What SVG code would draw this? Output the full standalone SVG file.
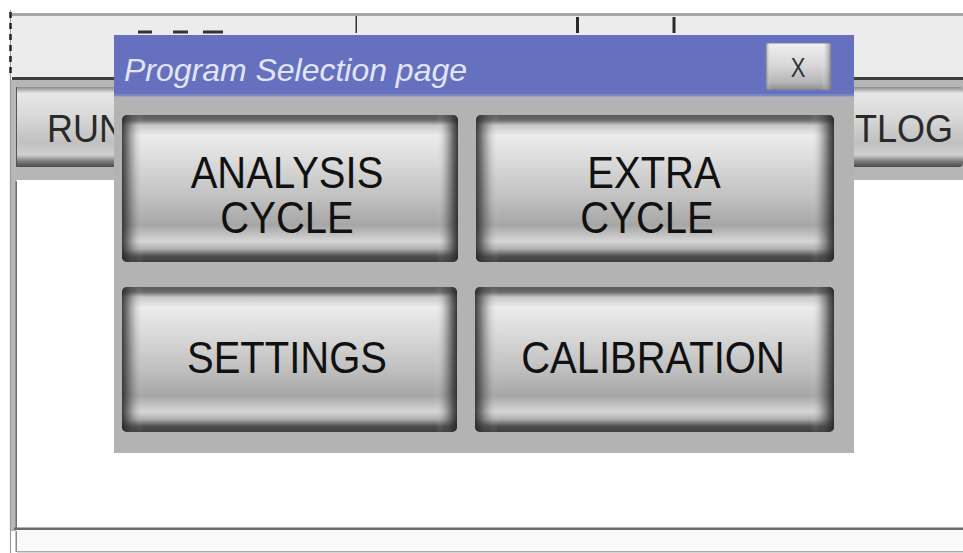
<svg xmlns="http://www.w3.org/2000/svg" width="963" height="553" viewBox="0 0 963 553">
  <defs>
    <linearGradient id="btnV" x1="0" y1="0" x2="0" y2="1">
      <stop offset="0" stop-color="#5a5a5a"/>
      <stop offset="0.035" stop-color="#6a6a6a"/>
      <stop offset="0.07" stop-color="#c8c8c8"/>
      <stop offset="0.14" stop-color="#ececec"/>
      <stop offset="0.3" stop-color="#dcdcdc"/>
      <stop offset="0.55" stop-color="#c2c2c2"/>
      <stop offset="0.75" stop-color="#a6a6a6"/>
      <stop offset="0.86" stop-color="#d6d6d6"/>
      <stop offset="0.91" stop-color="#b0b0b0"/>
      <stop offset="0.96" stop-color="#4e4e4e"/>
      <stop offset="1" stop-color="#3e3e3e"/>
    </linearGradient>
    <linearGradient id="btnH" x1="0" y1="0" x2="1" y2="0">
      <stop offset="0" stop-color="#222" stop-opacity="0.85"/>
      <stop offset="0.014" stop-color="#333" stop-opacity="0.65"/>
      <stop offset="0.04" stop-color="#555" stop-opacity="0.18"/>
      <stop offset="0.065" stop-color="#fff" stop-opacity="0"/>
      <stop offset="0.935" stop-color="#fff" stop-opacity="0"/>
      <stop offset="0.96" stop-color="#555" stop-opacity="0.22"/>
      <stop offset="0.986" stop-color="#333" stop-opacity="0.72"/>
      <stop offset="1" stop-color="#222" stop-opacity="0.9"/>
    </linearGradient>
    <linearGradient id="barBtn" x1="0" y1="0" x2="0" y2="1">
      <stop offset="0" stop-color="#8a8a8a"/>
      <stop offset="0.08" stop-color="#e6e6e6"/>
      <stop offset="0.35" stop-color="#dadada"/>
      <stop offset="0.7" stop-color="#c0c0c0"/>
      <stop offset="0.85" stop-color="#d0d0d0"/>
      <stop offset="0.93" stop-color="#7a7a7a"/>
      <stop offset="1" stop-color="#4a4a4a"/>
    </linearGradient>
    <linearGradient id="xBtn" x1="0" y1="0" x2="0" y2="1">
      <stop offset="0" stop-color="#f0f0f0"/>
      <stop offset="0.5" stop-color="#d6d6d6"/>
      <stop offset="0.85" stop-color="#b4b4b4"/>
      <stop offset="1" stop-color="#8a8a8a"/>
    </linearGradient>
    <linearGradient id="xBtnH" x1="0" y1="0" x2="1" y2="0">
      <stop offset="0" stop-color="#777" stop-opacity="0.6"/>
      <stop offset="0.08" stop-color="#fff" stop-opacity="0"/>
      <stop offset="0.85" stop-color="#fff" stop-opacity="0"/>
      <stop offset="1" stop-color="#666" stop-opacity="0.7"/>
    </linearGradient>
  </defs>
  <style>
    .lbl { font-family: "Liberation Sans", Arial, sans-serif; font-size: 40px; fill: #111; text-anchor: middle; }
    .bar { font-family: "Liberation Sans", Arial, sans-serif; font-size: 36px; fill: #2a2a2a; }
    .title { font-family: "Liberation Sans", Arial, sans-serif; font-size: 30px; font-style: italic; fill: #e2e5f6; }
    .xl { font-family: "Liberation Sans", Arial, sans-serif; font-size: 22px; fill: #333; text-anchor: middle; }
    .btnbase { fill: url(#btnV); }
    .btnside { fill: url(#btnH); }
  </style>

  <!-- background screen -->
  <g id="screen">
    <rect x="0" y="0" width="963" height="553" fill="#ffffff"/>
    <rect x="12" y="13" width="951" height="66" fill="#ececec"/>
    <rect x="12" y="13" width="951" height="3" fill="#a6a6a6"/>
    <rect x="12" y="77" width="951" height="3" fill="#3c3c3c"/>
    <rect x="355.5" y="16" width="1.5" height="17" fill="#333"/>
    <rect x="576" y="17" width="3" height="16" fill="#2a2a2a"/>
    <rect x="672.5" y="17" width="3" height="16" fill="#2a2a2a"/>
    <rect x="138" y="30.5" width="14" height="3" fill="#333"/>
    <rect x="173" y="30.5" width="15" height="3" fill="#333"/>
    <rect x="203" y="30.5" width="20" height="3" fill="#333"/>
    <rect x="12" y="80" width="951" height="100" fill="#b6b6b6"/>
    <rect x="14" y="87" width="240" height="80" rx="4" fill="url(#barBtn)"/>
    <rect x="14" y="87" width="3" height="80" fill="#555"/>
    <rect x="740" y="87" width="223" height="80" rx="4" fill="url(#barBtn)"/>
    <text class="bar" transform="translate(47 142) scale(1 1.1)">RUN</text>
    <text class="bar" transform="translate(855 142) scale(1 1.1)">TLOG</text>
    <rect x="17" y="181" width="946" height="348" fill="#ffffff"/>
    <rect x="11" y="80" width="5" height="451" fill="#b8b8b8"/>
    <rect x="15.5" y="181" width="1.5" height="349" fill="#6e6e6e"/>
    <line x1="10.5" y1="10" x2="10.5" y2="553" stroke="#9a9a9a" stroke-width="1.2"/>
    <line x1="10.5" y1="12" x2="10.5" y2="78" stroke="#222" stroke-width="2.5" stroke-dasharray="6 5"/>
    <rect x="14" y="527.5" width="949" height="2.5" fill="#6a6a6a"/>
    <rect x="17" y="531" width="946" height="21" fill="#f9f9f9"/>
    <rect x="17" y="551" width="946" height="1.5" fill="#a9a9a9"/>
    <rect x="15.5" y="531" width="1.5" height="21" fill="#8a8a8a"/>
  </g>

  <g id="connectors"/>

  <g id="dialog">
    <rect x="114" y="35" width="740" height="418" fill="#b3b3b3"/>
    <rect x="114" y="35" width="740" height="61" fill="#6571bf"/>
    <rect x="114" y="94" width="740" height="3" fill="#8f95c2" opacity="0.6"/>
    <text class="title" transform="translate(124 81) scale(1 1.05)" textLength="343" lengthAdjust="spacingAndGlyphs">Program Selection page</text>
  </g>

  <g id="close-button">
    <rect x="766" y="43" width="65" height="47" rx="2" fill="url(#xBtn)"/>
    <rect x="766" y="43" width="65" height="47" rx="2" fill="url(#xBtnH)"/>
    <rect x="766" y="43" width="65" height="47" rx="2" fill="none" stroke="#7b7fa8" stroke-width="1"/>
    <text class="xl" transform="translate(798 77) scale(1 1.25)">X</text>
  </g>

  <g id="btn-analysis">
    <rect class="btnbase" x="122" y="115" width="336" height="147" rx="5"/>
    <rect class="btnside" x="122" y="115" width="336" height="147" rx="5"/>
    <text class="lbl" transform="translate(287 188) scale(1 1.1)">ANALYSIS</text>
    <text class="lbl" transform="translate(287 233) scale(1 1.1)">CYCLE</text>
  </g>

  <g id="btn-extra">
    <rect class="btnbase" x="476" y="115" width="358" height="147" rx="5"/>
    <rect class="btnside" x="476" y="115" width="358" height="147" rx="5"/>
    <text class="lbl" transform="translate(654 188) scale(1 1.1)">EXTRA</text>
    <text class="lbl" transform="translate(647 233) scale(1 1.1)">CYCLE</text>
  </g>

  <g id="btn-settings">
    <rect class="btnbase" x="122" y="287" width="335" height="145" rx="5"/>
    <rect class="btnside" x="122" y="287" width="335" height="145" rx="5"/>
    <text class="lbl" transform="translate(287 373) scale(1 1.1)">SETTINGS</text>
  </g>

  <g id="btn-calibration">
    <rect class="btnbase" x="475" y="287" width="359" height="145" rx="5"/>
    <rect class="btnside" x="475" y="287" width="359" height="145" rx="5"/>
    <text class="lbl" transform="translate(653 373) scale(1 1.1)">CALIBRATION</text>
  </g>
</svg>
